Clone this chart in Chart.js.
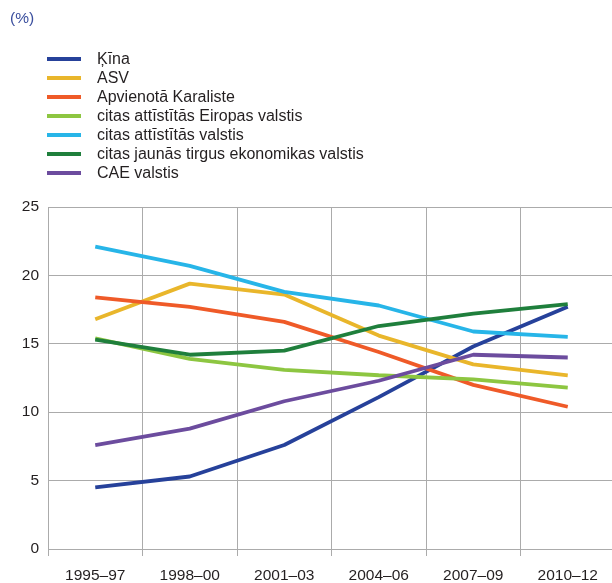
<!DOCTYPE html>
<html>
<head>
<meta charset="utf-8">
<script src="https://cdn.jsdelivr.net/npm/chart.js@4"></script>
<style>
  html, body { margin: 0; padding: 0; background: #fff; width: 612px; height: 583px; overflow: hidden; }
  #wrap { position: relative; width: 616px; height: 583px; }
  #chart { position: absolute; left: 0; top: 0; }
  #unit { position: absolute; left: 10px; top: 9px; font: 15.5px "Liberation Sans", Arial, sans-serif; color: #3b4f9e; }
  #legend { position: absolute; left: 47px; top: 49px; margin: 0; padding: 0; list-style: none;
            font: 16px "Liberation Sans", Arial, sans-serif; color: #231f20; }
  #legend li { height: 19px; display: flex; align-items: center; white-space: nowrap; }
  #legend .sw { width: 34px; height: 4px; margin-right: 16px; }
</style>
</head>
<body>
<div id="wrap">
  <canvas id="chart" width="616" height="583"></canvas>
  <div id="unit">(%)</div>
  <ul id="legend"></ul>
</div>
<script>
// Three-year periods
const categories = ['1995–97', '1998–00', '2001–03', '2004–06', '2007–09', '2010–12'];

// Shares, %
const kina   = [4.5, 5.3, 7.6, 11.1, 14.8, 17.7];
const asv    = [16.8, 19.4, 18.6, 15.6, 13.5, 12.7];
const uk     = [18.4, 17.7, 16.6, 14.4, 12.0, 10.4];
const eiropa = [15.4, 13.9, 13.1, 12.7, 12.4, 11.8];
const attist = [22.1, 20.7, 18.8, 17.8, 15.9, 15.5];
const jaunas = [15.3, 14.2, 14.5, 16.3, 17.2, 17.9];
const cae    = [7.6, 8.8, 10.8, 12.3, 14.2, 14.0];

const seriesNames = [
  'Ķīna',
  'ASV',
  'Apvienotā Karaliste',
  'citas attīstītās Eiropas valstis',
  'citas attīstītās valstis',
  'citas jaunās tirgus ekonomikas valstis',
  'CAE valstis'
];
const seriesData = [kina, asv, uk, eiropa, attist, jaunas, cae];
const seriesColors = ['#26419a', '#e9b62b', '#ef5a28', '#8dc641', '#27b5e8', '#1f7f3c', '#6c4c9e'];

const yTicks = [0, 5, 10, 15, 20, 25];

const FONT = '"Liberation Sans", Arial, sans-serif';
const GRID = '#ababab';

const datasets = seriesNames.map((name, i) => ({
  label: name,
  data: seriesData[i],
  borderColor: seriesColors[i],
  backgroundColor: seriesColors[i],
  borderWidth: 3.8,
  pointRadius: 0,
  tension: 0,
  fill: false,
  borderJoinStyle: 'bevel',
  // later series are painted over earlier ones
  order: seriesNames.length - i
}));

const chart = new Chart(document.getElementById('chart'), {
  type: 'line',
  data: { labels: categories, datasets },
  options: {
    responsive: false,
    animation: false,
    events: [],
    layout: { padding: { top: 207, right: 1, bottom: 0, left: 0 } },
    plugins: { legend: { display: false }, tooltip: { enabled: false } },
    scales: {
      x: {
        offset: true,
        grid: { offset: true, color: GRID, lineWidth: 1, tickLength: 7, drawTicks: true },
        border: { color: GRID, width: 1 },
        ticks: { color: '#231f20', font: { family: FONT, size: 15.5 }, padding: 10, maxRotation: 0, autoSkip: false },
        afterFit: s => { s.height = 34; }
      },
      y: {
        min: 0,
        max: 25,
        afterBuildTicks: s => { s.ticks = yTicks.map(v => ({ value: v })); },
        grid: { color: GRID, lineWidth: 1, drawTicks: false },
        border: { color: GRID, width: 1 },
        ticks: { color: '#231f20', font: { family: FONT, size: 15.5 }, padding: 9 },
        afterFit: s => { s.width = 48; }
      }
    }
  }
});

// Legend list built from the chart's datasets
const ul = document.getElementById('legend');
chart.data.datasets.forEach(ds => {
  const li = document.createElement('li');
  const sw = document.createElement('span');
  sw.className = 'sw';
  sw.style.background = ds.borderColor;
  li.appendChild(sw);
  li.appendChild(document.createTextNode(ds.label));
  ul.appendChild(li);
});
</script>
</body>
</html>
